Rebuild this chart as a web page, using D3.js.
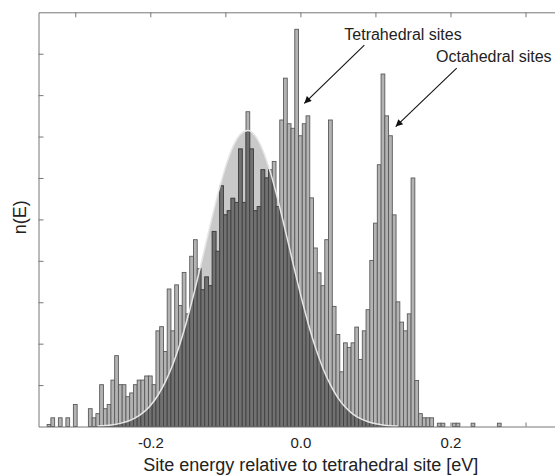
<!DOCTYPE html>
<html>
<head>
<meta charset="utf-8">
<script src="https://cdn.jsdelivr.net/npm/d3@7"></script>
<style>
body { margin: 0; background: #fff; }
svg { display: block; font-family: "Liberation Sans", Arial, sans-serif; }
</style>
</head>
<body>
<svg id="chart"></svg>
<script>
//Histogram bins: centre energy [eV] and height n(E) (empty bins left out)
var energy = [-0.335, -0.33, -0.32, -0.31, -0.3,
  -0.28, -0.275, -0.27, -0.265, -0.26, -0.255, -0.25, -0.245, -0.24, -0.235, -0.23, -0.225, -0.22, -0.215, -0.21, -0.205, -0.2, -0.195,
  -0.19, -0.185, -0.18, -0.175, -0.17, -0.165, -0.16, -0.155, -0.15, -0.145, -0.14, -0.135, -0.13, -0.125, -0.12, -0.115, -0.11, -0.105, -0.1, -0.095,
  -0.09, -0.085, -0.08, -0.075, -0.07, -0.065, -0.06, -0.055, -0.05, -0.045, -0.04, -0.035, -0.03, -0.025, -0.02, -0.015, -0.01, -0.005, 0, 0.005,
  0.01, 0.015, 0.02, 0.025, 0.03, 0.035, 0.04, 0.045, 0.05, 0.055, 0.06, 0.065, 0.07, 0.075, 0.08, 0.085, 0.09, 0.095, 0.1, 0.105,
  0.11, 0.115, 0.12, 0.125, 0.13, 0.135, 0.14, 0.145, 0.15, 0.155, 0.16, 0.165, 0.17, 0.175,
  0.185, 0.19, 0.205, 0.21, 0.23, 0.265];
var counts = [0.05, 0.21, 0.21, 0.21, 0.53,
  0.43, 0.21, 0.31, 1.01, 0.43, 0.53, 1.12, 1.71, 1.01, 1.01, 0.72, 0.81, 1.01, 1.12, 1.12, 1.22, 1.22, 1.01,
  2.31, 2.41, 1.81, 3.32, 2.31, 3.42, 2.92, 3.72, 2.72, 4.11, 4.51, 3.81, 3.30, 3.61, 3.40, 4.71, 4.23, 5.81, 5.11, 5.21,
  5.51, 5.41, 6.70, 5.41, 7.60, 6.70, 5.21, 5.31, 6.20, 6.00, 6.20, 6.40, 5.31, 7.40, 8.41, 7.31, 7.20, 9.59, 7.02, 7.31,
  7.50, 5.52, 4.31, 3.71, 3.40, 4.51, 7.40, 2.90, 2.22, 1.32, 2.02, 1.91, 2.02, 2.40, 1.62, 2.31, 2.82, 4.01, 4.91, 6.32,
  8.51, 7.50, 7.02, 5.11, 3.01, 2.52, 2.31, 2.72, 6.00, 1.11, 0.31, 0.21, 0.21, 0.21,
  0.08, 0.08, 0.08, 0.08, 0.08, 0.08];

//Grey envelope (fitted peak)
var gaussE = [-0.27, -0.26, -0.25, -0.24, -0.23, -0.22, -0.21, -0.2, -0.19, -0.18, -0.17, -0.16, -0.15, -0.14,
  -0.13, -0.12, -0.11, -0.1, -0.09, -0.08, -0.07, -0.06, -0.05, -0.04, -0.03, -0.02, -0.01, 0,
  0.01, 0.02, 0.03, 0.04, 0.05, 0.06, 0.07, 0.08, 0.09, 0.1, 0.11, 0.12, 0.13];
var gaussN = [0.013, 0.024, 0.043, 0.075, 0.127, 0.207, 0.328, 0.503, 0.748, 1.076, 1.499, 2.023, 2.643, 3.347,
  4.105, 4.876, 5.611, 6.253, 6.750, 7.058, 7.149, 7.013, 6.665, 6.135, 5.470, 4.723, 3.951, 3.201,
  2.512, 1.910, 1.407, 1.003, 0.693, 0.464, 0.300, 0.189, 0.115, 0.068, 0.039, 0.021, 0.011];

//Ticks
var xTicks = [-0.3, -0.2, -0.1, 0.0, 0.1, 0.2, 0.3];
var xLabelTicks = [-0.2, 0.0, 0.2];
var yTicks = [1, 2, 3, 4, 5, 6, 7, 8, 9];

//Arrows with labels
var notes = [
  {label: 'Tetrahedral sites', tx: 0.0585, ty: 9.34, x1: 0.0852, y1: 9.21, x2: 0.0052, y2: 7.80},
  {label: 'Octahedral sites', tx: 0.1807, ty: 8.79, x1: 0.2083, y1: 8.65, x2: 0.127, y2: 7.24}
];

var binWidth = 0.005;

//Measurements for svg
var width = 555;
var height = 476;

var svg = d3.select('#chart')
    .attr('width', width)
    .attr('height', height);

var xScale = d3.scaleLinear()
    .domain([-0.349, 0.3766])
    .range([38.5, 583]);

var yScale = d3.scaleLinear()
    .domain([0, 10])
    .range([426.5, 12.3]);

var frameColor = '#777';

//bottom ticks sit behind the bars
svg.append('g')
    .attr('transform', 'translate(0,' + yScale(0) + ')')
    .call(d3.axisTop(xScale).tickValues(xTicks).tickSize(4).tickSizeOuter(0).tickFormat(''))
    .call(g => g.select('.domain').remove())
    .selectAll('line').attr('stroke', frameColor);

//Gaussian envelope
var gauss = gaussE.map((e, i) => ({e: e, n: gaussN[i]}));
var area = d3.area()
    .curve(d3.curveMonotoneX)
    .x(d => xScale(d.e))
    .y0(yScale(0))
    .y1(d => yScale(d.n));

svg.append('defs')
  .append('clipPath')
    .attr('id', 'gclip')
  .append('path')
    .attr('d', area(gauss));

svg.append('path')
    .attr('d', area(gauss))
    .attr('fill', '#c9c9c9');

//Bars
var bars = energy.map((e, i) => ({e: e, n: counts[i]}));

function drawBars(g, fill, stroke) {
  g.selectAll('rect')
      .data(bars)
      .enter()
      .append('rect')
        .attr('x', d => xScale(d.e - binWidth / 2))
        .attr('width', d => xScale(d.e + binWidth / 2) - xScale(d.e - binWidth / 2))
        .attr('y', d => yScale(d.n))
        .attr('height', d => yScale(0) - yScale(d.n))
        .attr('fill', fill)
        .attr('stroke', stroke)
        .attr('stroke-width', 0.9);
}

drawBars(svg.append('g'), '#b3b3b3', '#5a5a5a');
// part of each bar inside the envelope is darker
drawBars(svg.append('g').attr('clip-path', 'url(#gclip)'), '#717171', '#424242');

//envelope edge
svg.append('path')
    .attr('d', d3.line().curve(d3.curveMonotoneX).x(d => xScale(d.e)).y(d => yScale(d.n))(gauss))
    .attr('fill', 'none')
    .attr('stroke', '#e6e6e6')
    .attr('stroke-width', 1.5);

//Frame + ticks
function styleAxis(g) {
  g.select('.domain').attr('stroke', frameColor);
  g.selectAll('.tick line').attr('stroke', frameColor);
}

svg.append('g')
    .attr('transform', 'translate(' + xScale.range()[0] + ',0)')
    .call(d3.axisRight(yScale).tickValues(yTicks).tickSize(5).tickSizeOuter(0).tickFormat(''))
    .call(styleAxis);

svg.append('g')
    .attr('transform', 'translate(0,' + yScale.range()[1] + ')')
    .call(d3.axisBottom(xScale).tickValues(xTicks).tickSize(5).tickSizeOuter(0).tickFormat(''))
    .call(styleAxis);

svg.append('g')
    .attr('transform', 'translate(0,' + yScale(0) + ')')
    .call(d3.axisBottom(xScale).tickValues(xLabelTicks).tickSize(0).tickSizeOuter(0).tickPadding(11)
        .tickFormat(d => d.toFixed(1)))
    .call(styleAxis)
    .selectAll('text')
      .style('font-size', '15px')
      .style('font-family', '"Liberation Sans", Arial, sans-serif')
      .attr('fill', '#222');

//Labels
svg.append('text')
    .attr('x', (xScale.range()[0] + xScale.range()[1]) / 2)
    .attr('y', 471)
    .style('text-anchor', 'middle')
    .style('font-size', '18px')
    .attr('fill', '#222')
    .text('Site energy relative to tetrahedral site [eV]');

svg.append('text')
    .attr('transform', 'translate(26,' + yScale(5.05) + ') rotate(-90)')
    .style('text-anchor', 'middle')
    .style('font-size', '18px')
    .attr('fill', '#222')
    .text('n(E)');

//Annotations
svg.select('defs')
  .append('marker')
    .attr('id', 'arrow')
    .attr('viewBox', '0 0 10 10')
    .attr('refX', 10)
    .attr('refY', 5)
    .attr('markerWidth', 10)
    .attr('markerHeight', 7)
    .attr('markerUnits', 'userSpaceOnUse')
    .attr('orient', 'auto')
  .append('path')
    .attr('d', 'M0,0L10,5L0,10z')
    .attr('fill', '#111');

var ann = svg.append('g').selectAll('g')
    .data(notes)
    .enter()
    .append('g');

ann.append('line')
    .attr('x1', d => xScale(d.x1))
    .attr('y1', d => yScale(d.y1))
    .attr('x2', d => xScale(d.x2))
    .attr('y2', d => yScale(d.y2))
    .attr('stroke', '#111')
    .attr('stroke-width', 1.1)
    .attr('marker-end', 'url(#arrow)');

ann.append('text')
    .attr('x', d => xScale(d.tx))
    .attr('y', d => yScale(d.ty))
    .style('font-size', '16px')
    .attr('fill', '#222')
    .text(d => d.label);
</script>
</body>
</html>
